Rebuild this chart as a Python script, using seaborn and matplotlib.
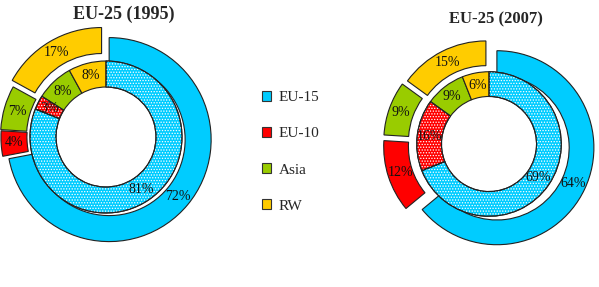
import matplotlib
matplotlib.use("Agg")
import numpy as np
import seaborn as sns
from matplotlib import pyplot as plt
from matplotlib.patches import Patch, Wedge

# data
regions = ["EU-15", "EU-10", "Asia", "RW"]
inner_1995 = [81, 3, 8, 8]
outer_1995 = [72, 4, 7, 17]
inner_2007 = [69, 16, 9, 6]
outer_2007 = [64, 12, 9, 15]
titles = ["EU-25 (1995)", "EU-25 (2007)"]

colors = ["#00CCFF", "#FF0000", "#99CC00", "#FFCC00"]
dotted = [True, True, False, False]

sns.set_theme(style="white")
plt.rcParams["font.family"] = ["Liberation Serif", "DejaVu Serif"]
plt.rcParams["hatch.linewidth"] = 0.6

W, H = 599, 287
fig = plt.figure(figsize=(W / 100, H / 100), dpi=100)

EDGE = "#222222"
RING = 0.255


def make_axes(cx, cy, sx, sy, half=1.25):
    """Axes centred on pixel (cx, cy), sx / sy pixels per data unit."""
    ax = fig.add_axes([(cx - half * sx) / W, 1 - (cy + half * sy) / H,
                       2 * half * sx / W, 2 * half * sy / H])
    ax.set_xlim(-half, half)
    ax.set_ylim(-half, half)
    ax.axis("off")
    return ax


def donut(ax, inner, outer, explode):
    props = dict(width=RING, edgecolor=EDGE, linewidth=0.8)
    # outer ring (exploded)
    wedges_out, _ = ax.pie(outer, radius=1.0, colors=colors, startangle=90,
                           counterclock=False, explode=explode,
                           wedgeprops=props, frame=True)
    # inner ring
    wedges_in, _ = ax.pie(inner, radius=1.0 - RING, colors=colors,
                          startangle=90, counterclock=False,
                          wedgeprops=props, frame=True)
    # dotted texture on the inner EU-15 / EU-10 slices
    for w, dot in zip(wedges_in, dotted):
        if dot:
            ax.add_patch(Wedge(w.center, w.r, w.theta1, w.theta2, width=w.width,
                               facecolor="none", edgecolor="white",
                               linewidth=0, hatch="......"))
            ax.add_patch(Wedge(w.center, w.r, w.theta1, w.theta2, width=w.width,
                               facecolor="none", edgecolor=EDGE, linewidth=0.8))
    # percentage labels on the ring centrelines
    for wedges, vals in ((wedges_out, outer), (wedges_in, inner)):
        for w, v in zip(wedges, vals):
            r = w.r - w.width / 2
            ang = np.deg2rad((w.theta1 + w.theta2) / 2)
            ax.text(w.center[0] + r * np.cos(ang), w.center[1] + r * np.sin(ang),
                    f"{v}%", ha="center", va="center", fontsize=10,
                    color="#111111")
    ax.set_xlim(-1.25, 1.25)
    ax.set_ylim(-1.25, 1.25)
    ax.axis("off")


ax1 = make_axes(106, 137, 102, 102)
donut(ax1, inner_1995, outer_1995, [0.04, 0.03, 0.035, 0.085])

ax2 = make_axes(489, 144, 97, 101)
donut(ax2, inner_2007, outer_2007, [0.09, 0.09, 0.09, 0.07])

fig.text(124 / W, 1 - 14 / H, titles[0], ha="center", va="center",
         fontsize=13, fontweight="bold")
fig.text(496 / W, 1 - 19 / H, titles[1], ha="center", va="center",
         fontsize=12, fontweight="bold")

handles = [Patch(facecolor=c, edgecolor="#333333", linewidth=0.8) for c in colors]
fig.legend(handles, regions, loc="upper left",
           bbox_to_anchor=(262 / W, 1 - 91 / H), frameon=False, fontsize=11,
           labelspacing=1.5, handlelength=0.6, handleheight=0.6,
           handletextpad=0.5, borderpad=0, borderaxespad=0)

fig.savefig("out.png", dpi=100)
